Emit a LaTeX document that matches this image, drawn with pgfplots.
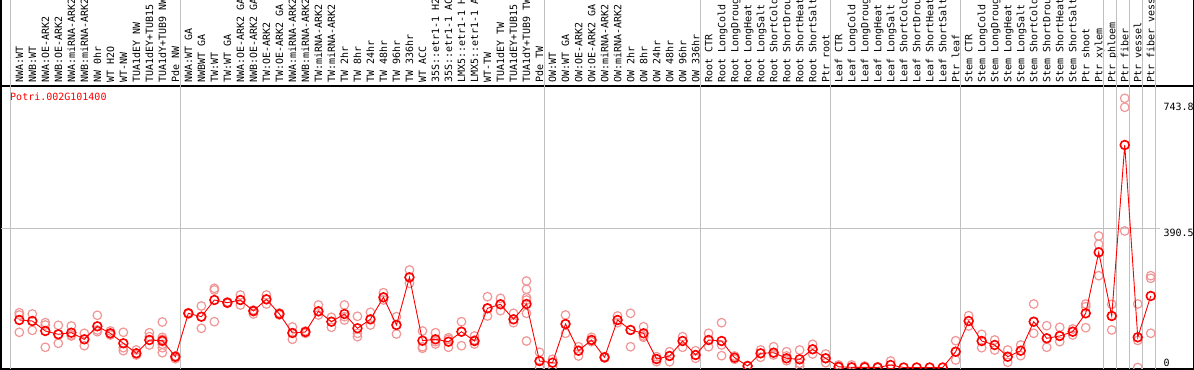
\documentclass[border=0pt]{standalone}
\usepackage{pgfplots}
\pgfplotsset{compat=1.18}
\usepackage{pgfplotstable}
\usepackage{fontspec}
\setmainfont{DejaVu Sans Mono}
\definecolor{rep}{RGB}{240,150,150}
\definecolor{sep}{RGB}{192,192,192}

\pgfplotstableread{
x y
0 133.2
1 130.4
2 102.4
3 93.1
4 97.6
5 79.1
6 115.6
7 95.9
8 67.9
9 39.8
10 77.1
11 75.2
12 30.3
13 152.0
14 142.5
15 189.3
16 181.8
17 189.3
18 158.5
19 191.3
20 150.1
21 96.8
22 99.6
23 157.6
24 128.5
25 150.1
26 110.0
27 135.2
28 196.9
29 119.2
30 253.0
31 75.2
32 79.1
33 72.4
34 100.4
35 74.3
36 166.1
37 177.3
38 135.2
39 178.1
40 18.2
41 13.5
42 122.0
43 47.1
44 77.1
45 28.6
46 133.2
47 105.2
48 95.9
49 23.8
50 32.3
51 74.3
52 35.1
53 77.1
54 74.3
55 27.5
56 4.2
57 39.8
58 41.5
59 25.8
60 23.0
61 51.1
62 25.8
63 2.0
64 0.5
65 0.5
66 0
67 7.0
68 0
69 0
70 0
71 0
72 44.3
73 130.4
74 74.3
75 63.1
76 30.3
77 47.1
78 128.5
79 81.9
80 88.4
81 100.4
82 152.0
83 323.1
84 144.5
85 624.1
86 84.7
87 200.6
}\means

\pgfplotstableread{
x y
0 153.7
0 147.3
0 98.7
1 150.1
1 130.4
1 104.3
2 125.7
2 119.2
2 56.7
3 118.4
3 93.1
3 67.9
4 116.4
4 91.2
4 88.4
5 95.9
5 79.1
5 61.1
6 146.4
6 105.2
6 100.4
7 102.4
7 94.0
7 91.2
8 98.7
8 55.5
8 47.1
9 49.1
9 39.8
9 35.1
10 97.6
10 86.4
10 63.1
11 127.6
11 84.7
11 79.1
11 72.4
11 65.1
11 55.5
11 41.5
12 32.3
12 28.6
12 24.7
13 153.7
13 152.0
13 150.1
14 172.5
14 142.5
14 110.0
15 222.2
15 217.4
15 128.5
16 183.7
16 181.8
16 180.1
17 203.4
17 189.3
17 175.3
18 161.3
18 156.5
18 150.1
19 203.4
19 191.3
19 178.1
20 152.9
20 150.1
20 147.3
21 113.6
21 96.8
21 79.1
22 102.4
22 99.6
22 95.9
23 175.3
23 157.6
23 147.3
24 140.8
24 128.5
24 112.8
25 175.3
25 142.5
25 133.2
26 143.6
26 95.9
26 86.4
27 154.8
27 135.2
27 119.2
28 209.8
28 196.9
28 189.3
29 142.5
29 119.2
29 94.0
30 273.5
30 253.0
30 236.2
31 102.4
31 58.3
31 53.9
32 97.6
32 72.4
32 65.9
33 83.6
33 79.1
33 56.7
34 128.5
34 100.4
34 61.1
35 88.4
35 77.1
35 65.9
36 198.6
36 166.1
36 144.5
37 194.1
37 177.3
37 159.3
38 152.0
38 135.2
38 125.7
39 242.6
39 219.3
39 195.8
39 189.3
39 152.0
39 74.3
40 42.6
40 18.2
40 0
41 23.0
41 13.5
41 2.2
42 147.3
42 122.0
42 95.9
43 58.3
43 47.1
43 32.3
44 84.7
44 77.1
44 72.4
45 30.3
45 28.6
45 26.6
46 144.5
46 133.2
46 125.7
47 152.0
47 105.2
47 58.3
48 114.4
48 88.4
48 84.7
49 30.3
49 23.8
49 16.3
50 44.3
50 32.3
50 16.3
51 86.4
51 74.3
51 56.7
52 47.1
52 35.1
52 25.8
53 95.9
53 77.1
53 58.3
54 125.7
54 63.1
54 33.1
55 32.3
55 23.0
56 5.4
56 4.2
56 3.0
57 49.1
57 39.8
57 28.6
58 58.3
58 41.5
58 35.1
59 44.3
59 32.3
59 19.1
60 49.1
60 11.8
60 4.2
61 65.1
61 51.1
61 37.9
62 37.9
62 25.8
62 13.5
63 7.0
63 0
64 7.0
65 4.2
66 2.2
67 18.2
72 75.2
72 44.3
72 21.0
73 145.3
73 130.4
73 116.4
74 93.1
74 74.3
74 55.5
75 77.1
75 63.1
75 49.1
76 49.1
76 30.3
76 14.6
77 63.1
77 47.1
77 33.1
78 178.1
78 128.5
78 95.9
79 117.2
79 81.9
79 56.7
80 112.8
80 88.4
80 72.4
81 108.0
81 100.4
81 91.2
82 178.1
82 170.5
82 111.6
83 368.9
83 345.6
83 257.5
84 177.3
84 144.5
84 105.2
85 755.1
85 729.9
85 382.9
86 178.1
86 76.0
86 0
87 257.5
87 250.2
87 95.9
}\reps

\begin{document}
\begin{tikzpicture}[font=\fontsize{10bp}{12bp}\selectfont]
\begin{axis}[
  at={(0.75bp,1bp)}, anchor=south west,
  scale only axis, width=1192.5bp, height=283bp,
  xmin=-1.4264, xmax=90.269, ymin=-4.21, ymax=789.6,
  axis line style={black, line width=1.5bp},
  clip mode=individual, clip marker paths=true,
  tick label style={font=\fontsize{10bp}{12bp}\selectfont, text=black},
  xtick={0,...,87},
  xticklabels={NWA:WT,NWB:WT,NWA:OE-ARK2,NWB:OE-ARK2,NWA:miRNA-ARK2,NWB:miRNA-ARK2,NW 0hr,WT H2O,WT-NW,TUA1dEY NW,TUA1dEY+TUB15,TUA1dY+TUB9 NW,Pde NW,NWA:WT GA,NWBWT GA,TW:WT,TW:WT GA,NWA:OE-ARK2 GA,NWB:OE-ARK2 GA,TW:OE-ARK2,TW:OE-ARK2 GA,NWA:miRNA-ARK2,NWB:miRNA-ARK2,TW:miRNA-ARK2,TW:miRNA-ARK2,TW 2hr,TW 8hr,TW 24hr,TW 48hr,TW 96hr,TW 336hr,WT ACC,35S::etr1-1 H2,35S::etr1-1 AC,LMX5::etr1-1 H,LMX5::etr1-1 A,WT-TW,TUA1dEY TW,TUA1dEY+TUB15,TUA1dY+TUB9 TW,Pde TW,OW:WT,OW:WT GA,OW:OE-ARK2,OW:OE-ARK2 GA,OW:miRNA-ARK2,OW:miRNA-ARK2,OW 2hr,OW 8hr,OW 24hr,OW 48hr,OW 96hr,OW 336hr,Root CTR,Root LongCold,Root LongDroug,Root LongHeat,Root LongSalt,Root ShortCold,Root ShortDrou,Root ShortHeat,Root ShortSalt,Ptr root,Leaf CTR,Leaf LongCold,Leaf LongDroug,Leaf LongHeat,Leaf LongSalt,Leaf ShortCold,Leaf ShortDrou,Leaf ShortHeat,Leaf ShortSalt,Ptr leaf,Stem CTR,Stem LongCold,Stem LongDroug,Stem LongHeat,Stem LongSalt,Stem ShortCold,Stem ShortDrou,Stem ShortHeat,Stem ShortSalt,Ptr shoot,Ptr xylem,Ptr phloem,Ptr fiber,Ptr vessel,Ptr fiber vess},
  xticklabel pos=upper,
  xticklabel style={rotate=90, anchor=mid west, inner sep=3.33bp, yshift=-1bp},
  ytick={390.5,743.8}, yticklabels={390.5,743.8},
  yticklabel pos=right,
  yticklabel style={anchor=north west, xshift=-33.25bp, inner xsep=3.33bp, inner ysep=1bp},
  extra y ticks={0}, extra y tick labels={0},
  extra y tick style={yticklabel style={anchor=south west}},
  major tick length=0pt,
  tick style={draw=none},
]
\pgfplotsinvokeforeach{-0.64,12.36,40.36,52.36,62.36,72.36,83.36,84.36,85.36,86.36,87.36}{
  \draw[sep, line width=1bp] (axis cs:#1,-4.21) -- (axis cs:#1,1040);
}
\draw[sep, line width=1bp] (axis cs:-1.4264,390.5) -- (axis cs:87.71,390.5);
\draw[black, line width=1.5bp] (axis cs:-1.4264,789.6) -- (axis cs:-1.4264,1040);
\draw[black, line width=1.5bp] (axis cs:90.269,789.6) -- (axis cs:90.269,1040);
\node[red, anchor=west] at (axis cs:-0.969,758.8) {Potri.002G101400};
\addplot[only marks, mark=o, mark size=4.3bp, rep, mark options={line width=1.2bp}] table[x=x,y=y] {\reps};
\addplot[red, line width=0.9bp, mark=o, mark size=4.4bp, mark options={line width=1.6bp, solid}] table[x=x,y=y] {\means};
\end{axis}
\pgfresetboundingbox
\path[use as bounding box] (0,0) rectangle (1194bp,370bp);
\end{tikzpicture}
\end{document}
